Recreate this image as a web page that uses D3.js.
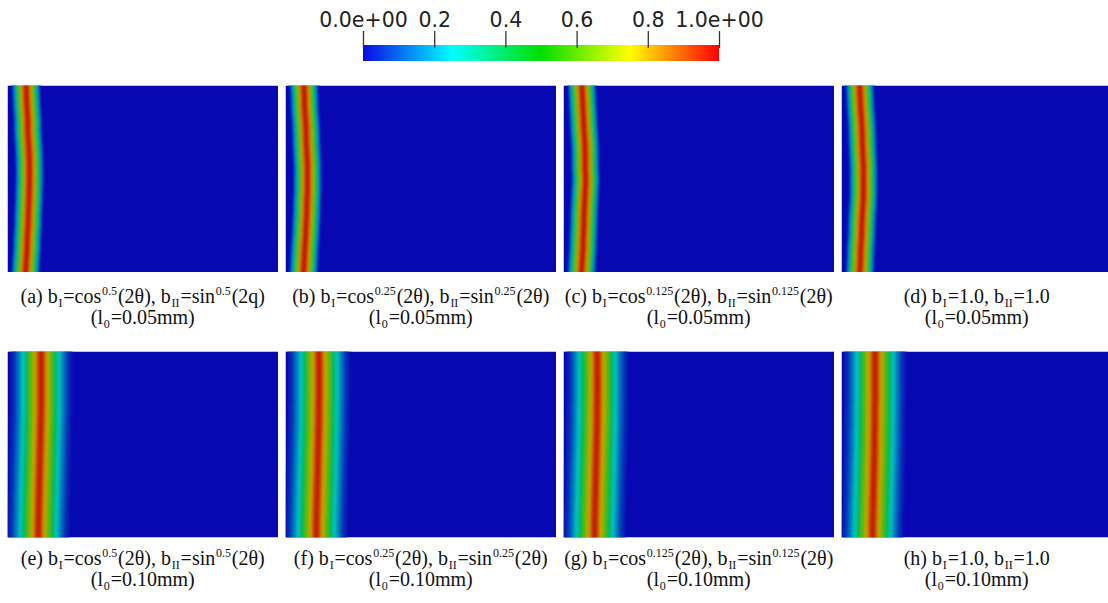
<!DOCTYPE html>
<html>
<head>
<meta charset="utf-8">
<script src="https://cdn.jsdelivr.net/npm/d3@7"></script>
<style>
  html, body { margin: 0; padding: 0; background: #fff; }
  svg { display: block; }
</style>
</head>
<body>
<svg id="fig" width="1108" height="603"></svg>
<script>
// ---- data -------------------------------------------------------------
// colour-bar ticks (phase-field value)
const barTicks = [0, 0.2, 0.4, 0.6, 0.8, 1.0];
const barTickLabels = ["0.0e+00", "0.2", "0.4", "0.6", "0.8", "1.0e+00"];

// panel ids, degradation exponents and length scales
const panelIds = ["a", "b", "c", "d", "e", "f", "g", "h"];
const exponents = ["0.5", "0.25", "0.125", null, "0.5", "0.25", "0.125", null];
const lengthScales = ["0.05", "0.05", "0.05", "0.05", "0.10", "0.10", "0.10", "0.10"];
const secondArg = ["2q", "2θ", "2θ", "2θ", "2θ", "2θ", "2θ", "2θ"];

// crack centre-line: x / W at heights y / H (top to bottom)
const pathY = [0, 0.0625, 0.125, 0.1875, 0.25, 0.3125, 0.375, 0.4375, 0.5,
               0.5625, 0.625, 0.6875, 0.75, 0.8125, 0.875, 0.9375, 1];
const crackA = [0.069, 0.070, 0.072, 0.075, 0.075, 0.078, 0.080, 0.081, 0.081,
                0.080, 0.079, 0.077, 0.076, 0.073, 0.072, 0.069, 0.067];
const crackB = [0.068, 0.070, 0.071, 0.074, 0.076, 0.077, 0.079, 0.081, 0.081,
                0.081, 0.079, 0.078, 0.076, 0.074, 0.071, 0.069, 0.067];
const crackC = [0.068, 0.070, 0.072, 0.074, 0.076, 0.079, 0.080, 0.080, 0.082,
                0.080, 0.078, 0.076, 0.075, 0.073, 0.072, 0.069, 0.067];
const crackD = [0.067, 0.069, 0.071, 0.074, 0.076, 0.077, 0.079, 0.081, 0.081,
                0.081, 0.080, 0.077, 0.075, 0.074, 0.071, 0.070, 0.068];
const crackE = [0.124, 0.124, 0.124, 0.124, 0.124, 0.124, 0.123, 0.122, 0.121,
                0.120, 0.119, 0.118, 0.117, 0.116, 0.115, 0.114, 0.114];
const crackF = [0.123, 0.124, 0.124, 0.124, 0.124, 0.123, 0.123, 0.122, 0.121,
                0.120, 0.119, 0.118, 0.117, 0.116, 0.115, 0.114, 0.114];
const crackG = [0.124, 0.125, 0.125, 0.125, 0.125, 0.124, 0.124, 0.123, 0.122,
                0.121, 0.120, 0.119, 0.118, 0.117, 0.116, 0.115, 0.115];
const crackH = [0.124, 0.124, 0.124, 0.124, 0.124, 0.123, 0.123, 0.122, 0.122,
                0.121, 0.120, 0.119, 0.118, 0.117, 0.116, 0.115, 0.115];
const cracks = [crackA, crackB, crackC, crackD, crackE, crackF, crackG, crackH];

// phase-field profile across the crack: distance (x / W) and value
const profileDist05 = [0, 0.0074, 0.0130, 0.0204, 0.0296, 0.0389, 0.0444, 0.0500, 0.0556];
const profileVal05  = [1.00, 0.95, 0.88, 0.75, 0.50, 0.27, 0.12, 0.04, 0.00];
const profileDist10 = [0, 0.0111, 0.0167, 0.0296, 0.0444, 0.0593, 0.0741, 0.0889, 0.1019, 0.1148];
const profileVal10  = [1.00, 0.93, 0.87, 0.72, 0.50, 0.33, 0.20, 0.10, 0.04, 0.00];

// ---- colour map ---------------------------------------------------------
const cmapDomain = [0, 0.25, 0.5, 0.75, 1];
const cmapRange = ["#0a0ae4", "#00ffff", "#00e000", "#ffff00", "#ff0000"];
const barColor = d3.scaleLinear().domain(cmapDomain).range(cmapRange)
  .interpolate(d3.interpolateRgb);
// panels are rendered with scene lighting, which darkens the colours
const shade = 0.78;
const panelColor = v => {
  const c = d3.rgb(barColor(v));
  return d3.rgb(c.r * shade, c.g * shade, c.b * shade).formatRgb();
};

const svg = d3.select("#fig");
const defs = svg.append("defs");

// ---- colour bar ---------------------------------------------------------
const barX = d3.scaleLinear().domain([0, 1]).range([363, 719]);
const grad = defs.append("linearGradient").attr("id", "barGrad")
  .attr("x1", "0%").attr("x2", "100%").attr("y1", "0%").attr("y2", "0%");
d3.range(0, 1.0001, 0.05).forEach(t => {
  grad.append("stop").attr("offset", (t * 100) + "%").attr("stop-color", barColor(t));
});
svg.append("rect")
  .attr("x", barX(0)).attr("y", 45)
  .attr("width", barX(1) - barX(0)).attr("height", 16)
  .attr("fill", "url(#barGrad)");

const barAxis = d3.axisTop(barX)
  .tickValues(barTicks)
  .tickFormat((d, i) => barTickLabels[i])
  .tickSizeInner(17).tickSizeOuter(0).tickPadding(4);
const gAxis = svg.append("g").attr("transform", "translate(0,48)").call(barAxis);
gAxis.select(".domain").remove();
gAxis.selectAll(".tick line").attr("stroke", "#333").attr("stroke-width", 1.3);
gAxis.selectAll(".tick text")
  .attr("fill", "#222")
  .style("font-family", "'DejaVu Sans', sans-serif")
  .style("font-size", "20.5px");

// ---- panels ---------------------------------------------------------------
const colX = d3.scaleBand().domain([0, 1, 2, 3]).range([7.5, 1112]).paddingInner(0.027).paddingOuter(0);
const rowTop = [85.5, 351.5];
const panelH = [186.5, 186];
const blurBy = [1.0, 1.7];
const captionBase = [[303, 324], [565, 586]];
const serif = "'Liberation Serif', 'DejaVu Serif', serif";

panelIds.forEach((id, i) => {
  const col = i % 4, row = Math.floor(i / 4);
  const w = colX.bandwidth(), h = panelH[row];
  const x0 = colX(col), y0 = rowTop[row];
  const xs = d3.scaleLinear().domain([0, 1]).range([0, w]);
  const ys = d3.scaleLinear().domain([0, 1]).range([0, h]);

  defs.append("clipPath").attr("id", "clip-" + id)
    .append("rect").attr("width", w).attr("height", h);
  defs.append("filter").attr("id", "soft-" + id)
    .attr("filterUnits", "userSpaceOnUse")
    .attr("x", -40).attr("y", -40).attr("width", w + 80).attr("height", h + 80)
    .append("feGaussianBlur").attr("stdDeviation", blurBy[row]);

  const g = svg.append("g").attr("transform", `translate(${x0},${y0})`)
    .attr("clip-path", `url(#clip-${id})`);
  g.append("rect").attr("width", w).attr("height", h).attr("fill", panelColor(0));

  const dist = row === 0 ? profileDist05 : profileDist10;
  const vals = row === 0 ? profileVal05 : profileVal10;
  const pts = pathY.map((yy, k) => [cracks[i][k], yy]);
  const line = d3.line().x(d => xs(d[0])).y(d => ys(d[1])).curve(d3.curveCatmullRom);

  // nested strokes: each ring |x - xc| <= dist[k] carries the mean value of its interval
  const bands = g.append("g").attr("filter", `url(#soft-${id})`);
  for (let k = dist.length - 1; k >= 1; k--) {
    bands.append("path")
      .attr("d", line(pts))
      .attr("fill", "none")
      .attr("stroke", panelColor((vals[k - 1] + vals[k]) / 2))
      .attr("stroke-width", 2 * xs(dist[k]))
      .attr("stroke-linecap", "square");
  }

  // caption, line 1
  const cx = x0 + w / 2;
  const l1 = svg.append("text").attr("x", cx).attr("y", captionBase[row][0])
    .attr("text-anchor", "middle")
    .style("font-family", serif)
    .style("font-size", "20px").attr("fill", "#111");
  const parts = [[`(${id}) b`], ["I", "sub"]];
  if (exponents[i]) {
    parts.push(["=cos"], [exponents[i], "sup"], ["(2θ), b"], ["II", "sub"],
               ["=sin"], [exponents[i], "sup"], [`(${secondArg[i]})`]);
  } else {
    parts.push(["=1.0, b"], ["II", "sub"], ["=1.0"]);
  }
  let shift = 0, prevSmall = false;
  parts.forEach(([t, kind]) => {
    const s = l1.append("tspan").text(t);
    const target = kind === "sub" ? 4 : kind === "sup" ? -8 : 0;
    if (kind) s.style("font-size", "12px");
    s.attr("dy", target - shift);
    // a hair of space around the small indices
    if (kind || prevSmall) s.attr("dx", 0.8);
    shift = target;
    prevSmall = !!kind;
  });

  // caption, line 2
  const l2 = svg.append("text").attr("x", cx).attr("y", captionBase[row][1])
    .attr("text-anchor", "middle")
    .style("font-family", serif)
    .style("font-size", "20px").attr("fill", "#111");
  l2.append("tspan").text("(l");
  l2.append("tspan").text("0").style("font-size", "12px").attr("dy", 4).attr("dx", 0.8);
  l2.append("tspan").text(`=${lengthScales[i]}mm)`).attr("dy", -4).attr("dx", 0.8);
});
</script>
</body>
</html>
